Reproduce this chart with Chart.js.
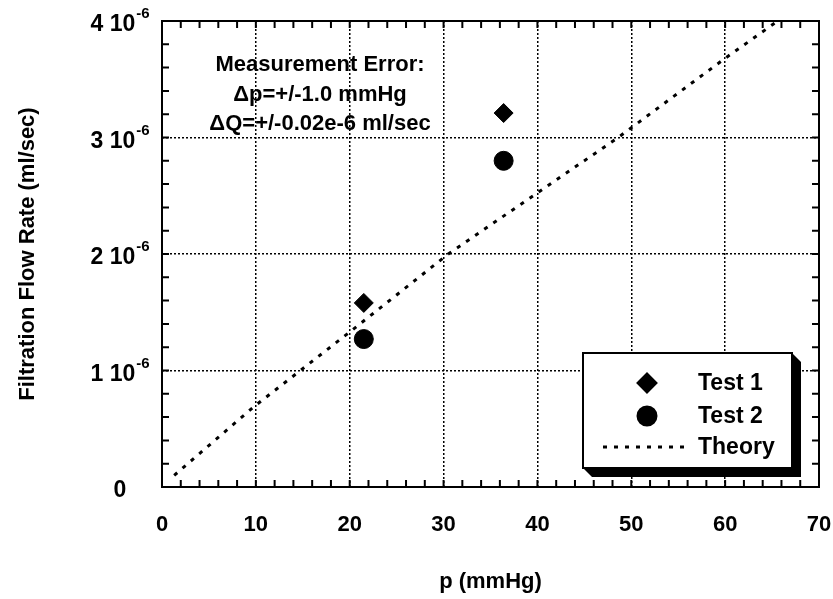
<!DOCTYPE html>
<html>
<head>
<meta charset="utf-8">
<title>Filtration Flow Rate</title>
<script src="https://cdn.jsdelivr.net/npm/chart.js@4.4.1/dist/chart.umd.min.js"></script>
<style>
  html, body { margin: 0; padding: 0; background: #fff; }
  #wrap { width: 833px; height: 599px; }
</style>
</head>
<body>
<div id="wrap"><canvas id="flowChart" width="833" height="599"></canvas></div>
<script>
// data
const test1P = [21.5, 36.4];
const test1Q = [1.58e-6, 3.21e-6];
const test2P = [21.5, 36.4];
const test2Q = [1.27e-6, 2.80e-6];
const theoryP = [1.3, 9.8, 20, 30.5, 48.6, 60, 65.6];
const theoryQ = [0.10e-6, 0.69e-6, 1.33e-6, 2.0e-6, 3.0e-6, 3.68e-6, 4.0e-6];

const xTicks = [0, 10, 20, 30, 40, 50, 60, 70];
const yTicks = [0, 1e-6, 2e-6, 3e-6, 4e-6];
const yTickLabels = ['0', '1 10', '2 10', '3 10', '4 10'];
const yTickExps = ['', '-6', '-6', '-6', '-6'];
const seriesNames = ['Test 1', 'Test 2', 'Theory'];
const noteLines = ['Measurement Error:', '\u0394p=+/-1.0 mmHg', '\u0394Q=+/-0.02e-6 ml/sec'];

const FONT = '"Liberation Sans", Arial, Helvetica, sans-serif';
const ctx = document.getElementById('flowChart').getContext('2d');

function toPoints(xs, ys) {
  return xs.map((x, i) => ({ x: x, y: ys[i] }));
}

// frame, inward ticks, y labels with exponents, note text and the boxed legend
const decorations = {
  id: 'decorations',
  afterDraw(chart) {
    const c = chart.ctx;
    const a = chart.chartArea;
    const xs = chart.scales.x;
    const ys = chart.scales.y;
    c.save();

    // frame
    c.strokeStyle = '#000';
    c.lineWidth = 2;
    c.setLineDash([]);
    c.strokeRect(a.left, a.top, a.right - a.left, a.bottom - a.top);

    // minor ticks pointing inwards on all four sides
    const tick = 7;
    c.beginPath();
    for (let i = 0; i <= 35; i++) {
      const px = xs.getPixelForValue(i * 2);
      c.moveTo(px, a.bottom); c.lineTo(px, a.bottom - tick);
      c.moveTo(px, a.top); c.lineTo(px, a.top + tick);
    }
    for (let i = 0; i <= 20; i++) {
      const py = ys.getPixelForValue(i * 0.2e-6);
      c.moveTo(a.left, py); c.lineTo(a.left + tick, py);
      c.moveTo(a.right, py); c.lineTo(a.right - tick, py);
    }
    c.stroke();

    // y tick labels like "3 10^-6"
    c.fillStyle = '#000';
    c.textBaseline = 'middle';
    c.textAlign = 'left';
    yTicks.forEach((v, i) => {
      const py = ys.getPixelForValue(v);
      c.font = 'bold 23px ' + FONT;
      const w1 = c.measureText(yTickLabels[i]).width;
      c.font = 'bold 15px ' + FONT;
      const w2 = yTickExps[i] ? c.measureText(yTickExps[i]).width + 1 : 0;
      const x0 = 120 - (w1 + w2) / 2;
      c.font = 'bold 23px ' + FONT;
      c.fillText(yTickLabels[i], x0, py + 4);
      if (yTickExps[i]) {
        c.font = 'bold 15px ' + FONT;
        c.fillText(yTickExps[i], x0 + w1 + 1, py - 7);
      }
    });

    // measurement error note
    c.textAlign = 'center';
    c.font = 'bold 22px ' + FONT;
    const noteX = a.left + 158;
    noteLines.forEach((t, i) => {
      c.fillText(t, noteX, a.top + 44 + i * 29.5);
    });

    // legend box with a solid drop shadow
    const bx0 = a.right - 236, by0 = a.bottom - 134;
    const bx1 = a.right - 27, by1 = a.bottom - 19;
    const sh = 9;
    c.beginPath();
    c.moveTo(bx0, by1);
    c.lineTo(bx0 + sh, by1 + sh);
    c.lineTo(bx1 + sh, by1 + sh);
    c.lineTo(bx1 + sh, by0 + sh);
    c.lineTo(bx1, by0);
    c.closePath();
    c.fillStyle = '#000';
    c.fill();
    c.fillStyle = '#fff';
    c.fillRect(bx0, by0, bx1 - bx0, by1 - by0);
    c.lineWidth = 2;
    c.strokeRect(bx0, by0, bx1 - bx0, by1 - by0);

    const ds = chart.data.datasets;
    const markX = bx0 + 64;
    const textX = bx0 + 115;
    const rows = [by0 + 30, by0 + 63, by0 + 94];
    c.fillStyle = '#000';
    c.textAlign = 'left';
    c.font = 'bold 23px ' + FONT;
    ds.forEach((d, i) => {
      const ry = rows[i];
      if (d.showLine) {
        c.save();
        c.strokeStyle = '#000';
        c.lineWidth = d.borderWidth;
        c.setLineDash(d.borderDash);
        c.beginPath();
        c.moveTo(bx0 + 20, ry);
        c.lineTo(bx0 + 104, ry);
        c.stroke();
        c.restore();
      } else {
        Chart.helpers.drawPoint(c, { pointStyle: d.pointStyle, radius: d.pointRadius, borderWidth: 1, rotation: 0 }, markX, ry);
        c.fillStyle = '#000';
        c.fill();
      }
      c.fillText(d.label, textX, ry + 1);
    });

    c.restore();
  }
};

new Chart(ctx, {
  type: 'scatter',
  data: {
    datasets: [
      {
        label: seriesNames[0],
        data: toPoints(test1P, test1Q),
        pointStyle: 'rectRot',
        pointRadius: 9.5,
        backgroundColor: '#000',
        borderColor: '#000',
        borderWidth: 1
      },
      {
        label: seriesNames[1],
        data: toPoints(test2P, test2Q),
        pointStyle: 'circle',
        pointRadius: 9.5,
        backgroundColor: '#000',
        borderColor: '#000',
        borderWidth: 1
      },
      {
        label: seriesNames[2],
        data: toPoints(theoryP, theoryQ),
        showLine: true,
        pointRadius: 0,
        borderColor: '#000',
        borderWidth: 3,
        borderDash: [4, 7],
        fill: false
      }
    ]
  },
  options: {
    responsive: false,
    animation: false,
    layout: { padding: { top: 21, right: 14, left: 0, bottom: 0 } },
    plugins: {
      legend: { display: false },
      tooltip: { enabled: false }
    },
    scales: {
      x: {
        type: 'linear',
        min: 0,
        max: 70,
        afterBuildTicks: s => { s.ticks = xTicks.map(v => ({ value: v })); },
        afterFit: s => { s.height = 112; s.paddingLeft = 0; s.paddingRight = 0; },
        ticks: {
          color: '#000',
          padding: 25,
          maxRotation: 0,
          font: { family: FONT, size: 22, weight: 'bold' }
        },
        grid: { color: '#000', lineWidth: 1.5, drawTicks: false },
        border: { display: false, dash: [2, 2] },
        title: {
          display: true,
          text: 'p (mmHg)',
          color: '#000',
          padding: { top: 4, bottom: 4 },
          font: { family: FONT, size: 22, weight: 'bold' }
        }
      },
      y: {
        type: 'linear',
        min: 0,
        max: 4e-6,
        afterBuildTicks: s => { s.ticks = yTicks.map(v => ({ value: v })); },
        afterFit: s => { s.width = 162; s.paddingTop = 0; s.paddingBottom = 0; },
        ticks: { display: false },
        grid: { color: '#000', lineWidth: 1.5, drawTicks: false },
        border: { display: false, dash: [2, 2] },
        title: {
          display: true,
          text: 'Filtration Flow Rate (ml/sec)',
          color: '#000',
          padding: { top: 15, bottom: 4 },
          font: { family: FONT, size: 22, weight: 'bold' }
        }
      }
    }
  },
  plugins: [decorations]
});
</script>
</body>
</html>
